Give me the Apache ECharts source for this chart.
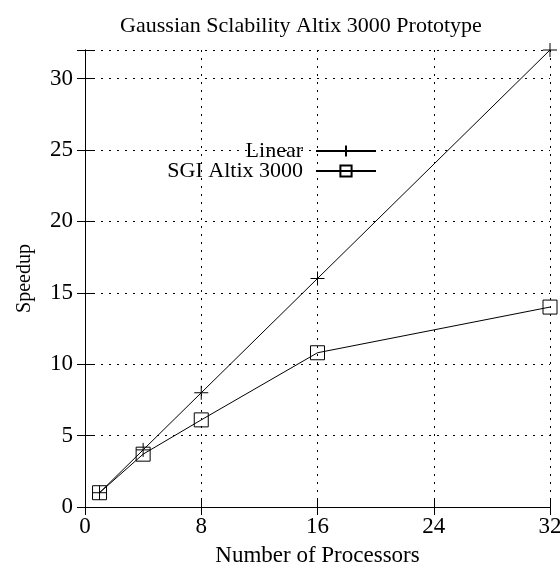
<!DOCTYPE html>
<html>
<head>
<meta charset="utf-8">
<script src="https://cdn.jsdelivr.net/npm/echarts@6/dist/echarts.min.js"></script>
<style>
  html, body { margin: 0; padding: 0; background: #fff; }
  #chart { width: 560px; height: 569px; }
</style>
</head>
<body>
<div id="chart"></div>
<script>
const processors = [1, 4, 8, 16, 32]
const linearSpeedup = [1, 4, 8, 16, 32]
const altixSpeedup = [1, 3.7, 6.1, 10.8, 14]
const xTicks = [0, 8, 16, 24, 32]
const yTicks = [0, 5, 10, 15, 20, 25, 30]

const font = 'Liberation Serif'
const chart = echarts.init(document.getElementById('chart'))

function pairs(xs, ys) {
  return xs.map((x, i) => [x, ys[i]])
}

const axisCommon = {
  axisLine: { show: true, onZero: false, lineStyle: { color: '#000', width: 1 } },
  axisTick: { show: true, inside: true, length: 8, lineStyle: { color: '#000' } },
  splitLine: { show: true, lineStyle: { color: '#000', type: [2, 6], width: 1 } }
}

const mirror = {
  type: 'value', min: 0, max: 32,
  axisLine: { show: true, lineStyle: { color: '#000' } },
  axisTick: { show: true, inside: true, length: 8, lineStyle: { color: '#000' } },
  axisLabel: { show: false }, splitLine: { show: false }
}

chart.setOption({
  animation: false,
  title: {
    text: 'Gaussian Sclability Altix 3000 Prototype',
    left: 296,
    top: 10,
    textAlign: 'center',
    textStyle: { fontFamily: font, fontSize: 22, fontWeight: 'normal', color: '#000' }
  },
  legend: {
    orient: 'vertical',
    right: 178,
    top: 135,
    align: 'right',
    itemWidth: 60,
    itemHeight: 14,
    itemGap: -2,
    textStyle: { fontFamily: font, fontSize: 22, color: '#000', padding: [0, 8, 0, 0] },
    data: ['Linear', 'SGI Altix 3000']
  },
  grid: { left: 85, right: 10, top: 50, bottom: 62, outerBoundsMode: 'none' },
  xAxis: [{
    ...axisCommon,
    type: 'value',
    min: 0,
    max: 32,
    interval: 8,
    name: 'Number of Processors',
    nameLocation: 'middle',
    nameGap: 37,
    nameTextStyle: { fontFamily: font, fontSize: 23, color: '#000' },
    axisLabel: { fontFamily: font, fontSize: 23, color: '#000', margin: 8,
      formatter: v => (xTicks.includes(v) ? v : '') }
  }, { ...mirror, position: 'top', interval: 8 }],
  yAxis: [{
    ...axisCommon,
    type: 'value',
    min: 0,
    max: 32,
    interval: 5,
    name: 'Speedup',
    nameLocation: 'middle',
    nameGap: 50,
    nameTextStyle: { fontFamily: font, fontSize: 20, color: '#000' },
    axisLabel: { fontFamily: font, fontSize: 23, color: '#000', margin: 12,
      formatter: v => (yTicks.includes(v) ? v : '') }
  }, { ...mirror, position: 'right', interval: 5 }],
  series: [{
    name: 'Linear',
    type: 'line',
    data: pairs(processors, linearSpeedup),
    symbol: 'path://M0,5L10,5M5,0L5,10',
    symbolSize: 14,
    showAllSymbol: true,
    lineStyle: { color: '#000', width: 1 },
    itemStyle: { color: 'none', borderColor: '#000', borderWidth: 1 }
  }, {
    name: 'SGI Altix 3000',
    type: 'line',
    data: pairs(processors, altixSpeedup),
    symbol: 'rect',
    symbolSize: 14,
    lineStyle: { color: '#000', width: 1 },
    itemStyle: { color: 'none', borderColor: '#000', borderWidth: 1 }
  }]
})
</script>
</body>
</html>
